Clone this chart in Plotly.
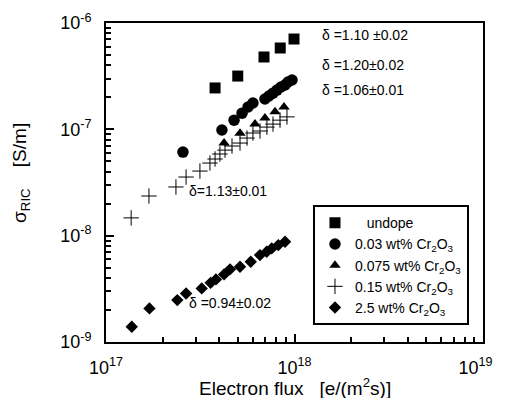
import plotly.graph_objects as go

# ---- data ----
undope_x = [3.79e17, 5.0e17, 6.89e17, 8.4e17, 9.94e17]
undope_y = [2.45e-7, 3.17e-7, 4.79e-7, 5.82e-7, 7.07e-7]

cr003_x = [2.56e17, 4.12e17, 4.78e17, 5.27e17, 5.67e17, 6.02e17, 6.97e17, 7.32e17,
           7.69e17, 8.07e17, 8.48e17, 8.91e17, 9.24e17, 9.70e17]
cr003_y = [6.11e-8, 9.85e-8, 1.22e-7, 1.42e-7, 1.62e-7, 1.77e-7, 1.93e-7, 2.06e-7,
           2.19e-7, 2.34e-7, 2.50e-7, 2.61e-7, 2.79e-7, 2.91e-7]

cr0075_x = [4.23e17, 5.14e17, 6.17e17, 6.97e17, 7.88e17, 8.80e17]
cr0075_y = [7.43e-8, 9.2e-8, 1.12e-7, 1.28e-7, 1.46e-7, 1.62e-7]

cr015_x = [1.36e17, 1.69e17, 2.35e17, 2.66e17, 3.15e17, 3.56e17, 3.79e17, 4.02e17, 4.28e17,
           4.66e17, 5.14e17, 5.60e17, 6.02e17, 6.56e17, 7.14e17, 7.69e17, 8.38e17, 9.12e17]
cr015_y = [1.47e-8, 2.36e-8, 2.87e-8, 3.56e-8, 4.05e-8, 4.82e-8, 5.26e-8, 5.86e-8, 6.38e-8,
           6.97e-8, 7.43e-8, 8.28e-8, 9.23e-8, 9.64e-8, 1.05e-7, 1.12e-7, 1.22e-7, 1.31e-7]

cr25_x = [1.37e17, 1.70e17, 2.39e17, 2.66e17, 3.22e17, 3.59e17, 3.83e17, 4.23e17,
          4.55e17, 5.14e17, 5.86e17, 6.56e17, 7.12e17, 7.57e17, 8.21e17, 8.91e17]
cr25_y = [1.39e-9, 2.07e-9, 2.48e-9, 2.86e-9, 3.19e-9, 3.60e-9, 3.88e-9, 4.32e-9,
          4.82e-9, 5.10e-9, 5.68e-9, 6.57e-9, 7.06e-9, 7.59e-9, 8.16e-9, 8.77e-9]

names = ["\u00a0\u00a0\u00a0undope",
         "0.03 wt% Cr<sub>2</sub>O<sub>3</sub>",
         "0.075 wt% Cr<sub>2</sub>O<sub>3</sub>",
         "0.15 wt% Cr<sub>2</sub>O<sub>3</sub>",
         "2.5 wt% Cr<sub>2</sub>O<sub>3</sub>"]

x_tickvals = [1e17, 1e18, 1e19]
x_ticktext = ["10<sup>17</sup>", "10<sup>18</sup>", "10<sup>19</sup>\u00a0\u00a0\u00a0"]
y_tickvals = [1e-9, 1e-8, 1e-7, 1e-6]
y_ticktext = ["10<sup>-9</sup>", "10<sup>-8</sup>", "10<sup>-7</sup>", "10<sup>-6</sup>"]

x_title = "Electron flux\u00a0\u00a0\u00a0[e/(m<sup>2</sup>s)]"
y_title = "\u03c3<sub>RIC</sub>\u00a0\u00a0\u00a0\u00a0[S/m]"

slopes = ["\u03b4 =1.10 \u00b10.02", "\u03b4 =1.20\u00b10.02", "\u03b4 =1.06\u00b10.01",
          "\u03b4=1.13\u00b10.01", "\u03b4 =0.94\u00b10.02"]
slope_pos = [(18.135, -6.113), (18.135, -6.395), (18.135, -6.630),
             (17.43, -7.578), (17.43, -8.634)]

FONT = "Liberation Sans, Arial, sans-serif"

fig = go.Figure()
fig.add_trace(go.Scatter(x=undope_x, y=undope_y, mode="markers", name=names[0],
                         marker=dict(symbol="square", size=11, color="black")))
fig.add_trace(go.Scatter(x=cr003_x, y=cr003_y, mode="markers", name=names[1],
                         marker=dict(symbol="circle", size=11.5, color="black")))
fig.add_trace(go.Scatter(x=cr0075_x, y=cr0075_y, mode="markers", name=names[2],
                         marker=dict(symbol="triangle-up", size=10, color="black")))
fig.add_trace(go.Scatter(x=cr015_x, y=cr015_y, mode="markers", name=names[3],
                         marker=dict(symbol="cross-thin-open", size=11, color="black",
                                     line=dict(width=1, color="black"))))
fig.add_trace(go.Scatter(x=cr25_x, y=cr25_y, mode="markers", name=names[4],
                         marker=dict(symbol="diamond", size=9.5, color="black")))

for txt, (lx, ly) in zip(slopes, slope_pos):
    fig.add_annotation(x=lx, y=ly, xref="x", yref="y", text=txt, showarrow=False,
                       xanchor="left", yanchor="middle",
                       font=dict(family=FONT, size=14, color="black"))

# axis titles
fig.add_annotation(x=0.5, y=-0.141, xref="paper", yref="paper", text=x_title,
                   showarrow=False, xanchor="center", yanchor="middle",
                   font=dict(family=FONT, size=19, color="black"))
fig.add_annotation(x=-0.2255, y=0.53, xref="paper", yref="paper", text=y_title,
                   showarrow=False, xanchor="center", yanchor="middle", textangle=-90,
                   font=dict(family=FONT, size=19, color="black"))

minor_x = [m * 10 ** e for e in (17, 18) for m in range(2, 10)]
minor_y = [m * 10 ** e for e in (-9, -8, -7) for m in range(2, 10)]

fig.update_xaxes(type="log", range=[17, 19], tickmode="array", tickvals=x_tickvals,
                 ticktext=x_ticktext, ticks="inside", ticklen=8, tickwidth=1.5,
                 tickcolor="black", showgrid=False, zeroline=False,
                 showline=True, linecolor="black", linewidth=2, mirror=True,
                 ticklabelstandoff=8, automargin=False, ticklabeloverflow="allow",
                 tickfont=dict(family=FONT, size=18, color="black"),
                 minor=dict(tickmode="array", tickvals=minor_x, ticks="inside",
                            ticklen=5, tickwidth=1.5, tickcolor="black", showgrid=False))
fig.update_yaxes(type="log", range=[-9, -6], tickmode="array", tickvals=y_tickvals,
                 ticktext=y_ticktext, ticks="inside", ticklen=8, tickwidth=1.5,
                 tickcolor="black", showgrid=False, zeroline=False,
                 showline=True, linecolor="black", linewidth=2, mirror=True,
                 ticklabelstandoff=9, automargin=False, ticklabeloverflow="allow",
                 tickfont=dict(family=FONT, size=18, color="black"),
                 minor=dict(tickmode="array", tickvals=minor_y, ticks="inside",
                            ticklen=5, tickwidth=1.5, tickcolor="black", showgrid=False))

# page body has an 8px default margin, so the figure is 8px smaller than the window
fig.update_layout(
    width=497, height=390,
    margin=dict(l=98, r=22, t=15, b=56),
    paper_bgcolor="white", plot_bgcolor="white",
    font=dict(family=FONT, color="black"),
    showlegend=True,
    legend=dict(x=0.549, y=0.429, xanchor="left", yanchor="top",
                bordercolor="black", borderwidth=2, bgcolor="white",
                font=dict(family=FONT, size=14, color="black"),
                itemwidth=30, tracegroupgap=0),
)

fig.write_html("out.html")
